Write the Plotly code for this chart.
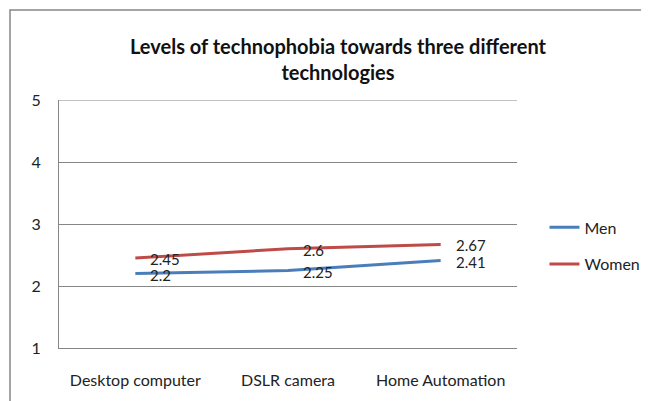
import plotly.graph_objects as go

categories = ["Desktop computer", "DSLR camera", "Home Automation"]
men = [2.2, 2.25, 2.41]
women = [2.45, 2.6, 2.67]
series_names = ["Men", "Women"]
y_ticks = [1, 2, 3, 4, 5]

colors = ["#4a7ebb", "#be4b48"]
FONT = "Lato"

# page has an 8px body margin; figure coords = page coords - 8
L, R, T, B = 51, 509, 92, 340
W, H = 649, 401

fig = go.Figure()
for name, vals, col in zip(series_names, [men, women], colors):
    fig.add_trace(go.Scatter(
        x=categories, y=vals, mode="lines", name=name,
        line=dict(color=col, width=3), legendgroup=name,
    ))
    for c, v in zip(categories, vals):
        fig.add_annotation(
            x=c, y=v, text=str(v), showarrow=False,
            xanchor="left", yanchor="middle", xshift=13, yshift=-1,
            font=dict(family=FONT, size=15, color="#222222"),
        )

pw, ph = R - L, B - T
fig.update_layout(
    width=W, height=H,
    margin=dict(l=L, r=W - R, t=T, b=H - B),
    paper_bgcolor="white", plot_bgcolor="white",
    font=dict(family=FONT, size=16, color="#222222"),
    title=dict(
        text="Levels of technophobia towards three different<br>technologies",
        x=330 / W, xanchor="center", y=1 - 45.5 / H, yanchor="middle",
        font=dict(family=FONT, size=20, color="#111111", weight="bold"),
    ),
    showlegend=True,
    legend=dict(
        x=1.06, y=0.555, xanchor="left", yanchor="top",
        font=dict(family=FONT, size=16, color="#222222"),
        tracegroupgap=13, bgcolor="rgba(0,0,0,0)",
    ),
    xaxis=dict(
        type="category", range=[-0.5, 2.5], showgrid=False,
        showline=True, linecolor="#868686", linewidth=1,
        ticks="", ticklabelstandoff=18,
        tickfont=dict(family=FONT, size=16, color="#222222"),
    ),
    yaxis=dict(
        range=[1, 5], tickvals=y_ticks, showgrid=True, gridcolor="#868686",
        gridwidth=1, showline=True, linecolor="#868686", linewidth=1,
        ticks="", ticklabelstandoff=14, zeroline=False,
        tickfont=dict(family=FONT, size=16, color="#222222"),
    ),
    shapes=[
        dict(
            type="rect", xref="paper", yref="paper",
            x0=(2 - L) / pw, x1=(636 - L) / pw,
            y0=(B - 410) / ph, y1=(B - 2) / ph,
            line=dict(color="#868686", width=1.5), fillcolor="rgba(0,0,0,0)",
            layer="below",
        ),
        dict(
            type="line", xref="paper", yref="y",
            x0=0, x1=1, y0=y_ticks[-1], y1=y_ticks[-1],
            line=dict(color="#868686", width=1), layer="below",
        ),
    ],
)

fig.write_html("out.html")
